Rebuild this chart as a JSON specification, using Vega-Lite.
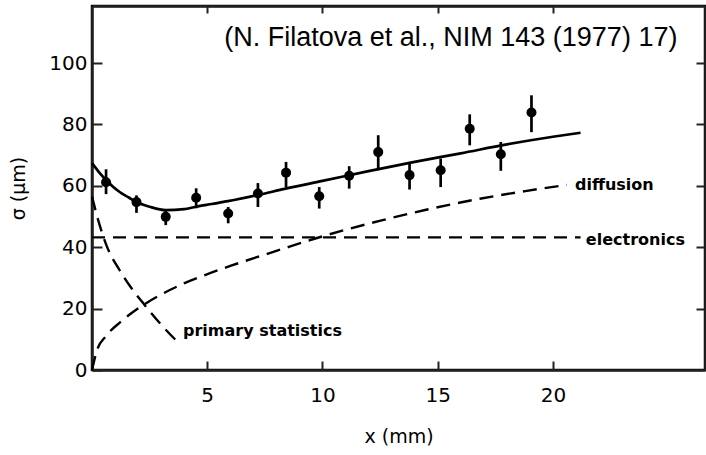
{
  "$schema": "https://vega.github.io/schema/vega-lite/v6.json",
  "width": 613,
  "height": 364,
  "autosize": "none",
  "padding": {"left": 92, "top": 6, "right": 1, "bottom": 85},
  "background": "white",
  "datasets": {
    "points": [
      {"x": 0.61, "y": 61.2, "lo": 57.3, "hi": 65.4},
      {"x": 1.93, "y": 54.7, "lo": 51.2, "hi": 56.9},
      {"x": 3.2, "y": 49.9, "lo": 47.2, "hi": 52.1},
      {"x": 4.52, "y": 56.1, "lo": 52.7, "hi": 59.2},
      {"x": 5.91, "y": 51.0, "lo": 47.8, "hi": 53.1},
      {"x": 7.2, "y": 57.5, "lo": 53.1, "hi": 60.9},
      {"x": 8.42, "y": 64.3, "lo": 59.6, "hi": 67.8},
      {"x": 9.86, "y": 56.6, "lo": 52.6, "hi": 59.6},
      {"x": 11.16, "y": 63.3, "lo": 59.1, "hi": 66.4},
      {"x": 12.42, "y": 71.0, "lo": 65.1, "hi": 76.5},
      {"x": 13.78, "y": 63.5, "lo": 58.8, "hi": 67.8},
      {"x": 15.13, "y": 65.1, "lo": 59.6, "hi": 68.9},
      {"x": 16.39, "y": 78.6, "lo": 73.2, "hi": 83.3},
      {"x": 17.74, "y": 70.3, "lo": 64.9, "hi": 74.3},
      {"x": 19.07, "y": 83.9, "lo": 77.5, "hi": 89.5}
    ],
    "total": [
      {"x": 0, "y": 67.4}, {"x": 0.3, "y": 64.5}, {"x": 0.6, "y": 62.0},
      {"x": 0.9, "y": 59.8}, {"x": 1.2, "y": 58.0}, {"x": 1.6, "y": 56.2},
      {"x": 1.9, "y": 54.8}, {"x": 2.5, "y": 53.2}, {"x": 3.2, "y": 52.1},
      {"x": 4.0, "y": 52.4}, {"x": 4.5, "y": 53.2}, {"x": 5.2, "y": 54.1},
      {"x": 5.9, "y": 55.0}, {"x": 7.2, "y": 57.0}, {"x": 8.4, "y": 59.1},
      {"x": 10, "y": 61.6}, {"x": 12, "y": 64.8}, {"x": 14, "y": 67.8},
      {"x": 16, "y": 70.6}, {"x": 18, "y": 73.5}, {"x": 20, "y": 76.0},
      {"x": 21.2, "y": 77.3}
    ],
    "electronics": [
      {"x": 0, "y": 43.2}, {"x": 21.2, "y": 43.2}
    ],
    "diffusion": [
      {"x": 0, "y": 0}, {"x": 0.22, "y": 6.5}, {"x": 0.6, "y": 11.0},
      {"x": 1.23, "y": 15.6}, {"x": 2.25, "y": 21.3}, {"x": 3.0, "y": 24.6},
      {"x": 3.99, "y": 28.2}, {"x": 4.93, "y": 31.0}, {"x": 6.0, "y": 33.9},
      {"x": 7.0, "y": 36.4}, {"x": 8.0, "y": 38.8}, {"x": 9.58, "y": 42.6},
      {"x": 12.48, "y": 48.6}, {"x": 14.5, "y": 52.2}, {"x": 16.83, "y": 55.8},
      {"x": 18.8, "y": 58.3}, {"x": 20.6, "y": 60.3}
    ],
    "primary": [
      {"x": 0, "y": 56.5}, {"x": 0.3, "y": 48.0}, {"x": 0.65, "y": 40.2},
      {"x": 1.2, "y": 32.5}, {"x": 1.7, "y": 26.8}, {"x": 2.25, "y": 21.5},
      {"x": 3.0, "y": 14.8}, {"x": 3.77, "y": 8.7}
    ],
    "labels": [
      {"x": 3.95, "y": 12.8, "text": "primary statistics"},
      {"x": 20.96, "y": 60.2, "text": "diffusion"},
      {"x": 21.43, "y": 42.3, "text": "electronics"}
    ],
    "cite": [
      {"x": 15.57, "y": 105.5, "text": "(N. Filatova et al., NIM 143 (1977) 17)"}
    ]
  },
  "layer": [
    {
      "data": {"name": "electronics"},
      "mark": {"type": "line", "color": "black", "strokeWidth": 2.4, "strokeDash": [13, 8]},
      "encoding": {
        "x": {"field": "x", "type": "quantitative", "scale": {"domain": [0, 26.6], "nice": false, "zero": false},
          "title": "x (mm)",
          "axis": {"orient": "bottom", "values": [5, 10, 15, 20], "gridOpacity": 0, "domainColor": "#222222", "domainWidth": 2.5, "tickSize": -9, "tickWidth": 2, "tickColor": "#222222", "labelPadding": 24, "labelFont": "DejaVu Sans", "labelFontSize": 20, "labelColor": "black", "titleFont": "DejaVu Sans", "titleFontSize": 19, "titleFontWeight": "normal", "titleColor": "black", "titlePadding": 22}},
        "y": {"field": "y", "type": "quantitative", "scale": {"domain": [0, 118.6], "nice": false, "zero": false},
          "title": "σ (μm)",
          "axis": {"orient": "left", "values": [0, 20, 40, 60, 80, 100], "gridOpacity": 0, "domainColor": "#222222", "domainWidth": 2.5, "tickSize": -10, "tickWidth": 2, "tickColor": "#222222", "labelPadding": 15, "labelFont": "DejaVu Sans", "labelFontSize": 20, "labelColor": "black", "titleFont": "DejaVu Sans", "titleFontSize": 19, "titleFontWeight": "normal", "titleColor": "black", "titlePadding": 20}}
      }
    },
    {
      "data": {"name": "diffusion"},
      "mark": {"type": "line", "color": "black", "strokeWidth": 2.4, "strokeDash": [14, 8], "interpolate": "monotone"},
      "encoding": {
        "x": {"field": "x", "type": "quantitative", "scale": {"domain": [0, 26.6], "nice": false, "zero": false},
          "axis": {"orient": "top", "values": [5, 10, 15, 20], "gridOpacity": 0, "labels": false, "title": null, "domainColor": "#222222", "domainWidth": 2.5, "tickSize": -7, "tickWidth": 2, "tickColor": "#222222"}},
        "y": {"field": "y", "type": "quantitative", "scale": {"domain": [0, 118.6], "nice": false, "zero": false},
          "axis": {"orient": "right", "values": [20, 40, 60, 80, 100], "gridOpacity": 0, "labels": false, "title": null, "domainColor": "#222222", "domainWidth": 2.5, "tickSize": -9, "tickWidth": 2, "tickColor": "#222222"}}
      }
    },
    {
      "data": {"name": "primary"},
      "mark": {"type": "line", "color": "black", "strokeWidth": 2.4, "strokeDash": [14, 8], "interpolate": "monotone"},
      "encoding": {
        "x": {"field": "x", "type": "quantitative", "axis": null},
        "y": {"field": "y", "type": "quantitative", "axis": null}
      }
    },
    {
      "data": {"name": "total"},
      "mark": {"type": "line", "color": "black", "strokeWidth": 2.7, "interpolate": "monotone"},
      "encoding": {
        "x": {"field": "x", "type": "quantitative", "axis": null},
        "y": {"field": "y", "type": "quantitative", "axis": null}
      }
    },
    {
      "data": {"name": "points"},
      "mark": {"type": "rule", "color": "black", "strokeWidth": 2.7},
      "encoding": {
        "x": {"field": "x", "type": "quantitative", "axis": null},
        "y": {"field": "lo", "type": "quantitative", "axis": null},
        "y2": {"field": "hi"}
      }
    },
    {
      "data": {"name": "points"},
      "mark": {"type": "point", "shape": "circle", "filled": true, "color": "black", "opacity": 1, "size": 100},
      "encoding": {
        "x": {"field": "x", "type": "quantitative", "axis": null},
        "y": {"field": "y", "type": "quantitative", "axis": null}
      }
    },
    {
      "data": {"name": "labels"},
      "mark": {"type": "text", "align": "left", "baseline": "middle", "font": "DejaVu Sans", "fontSize": 16, "fontWeight": "bold", "color": "black"},
      "encoding": {
        "x": {"field": "x", "type": "quantitative", "axis": null},
        "y": {"field": "y", "type": "quantitative", "axis": null},
        "text": {"field": "text"}
      }
    },
    {
      "data": {"name": "cite"},
      "mark": {"type": "text", "align": "center", "baseline": "alphabetic", "font": "Liberation Sans", "fontSize": 27, "color": "black"},
      "encoding": {
        "x": {"field": "x", "type": "quantitative", "axis": null},
        "y": {"field": "y", "type": "quantitative", "axis": null},
        "text": {"field": "text"}
      }
    }
  ],
  "resolve": {"axis": {"x": "independent", "y": "independent"}},
  "config": {
    "view": {"stroke": "black", "strokeWidth": 2.5}
  }
}
